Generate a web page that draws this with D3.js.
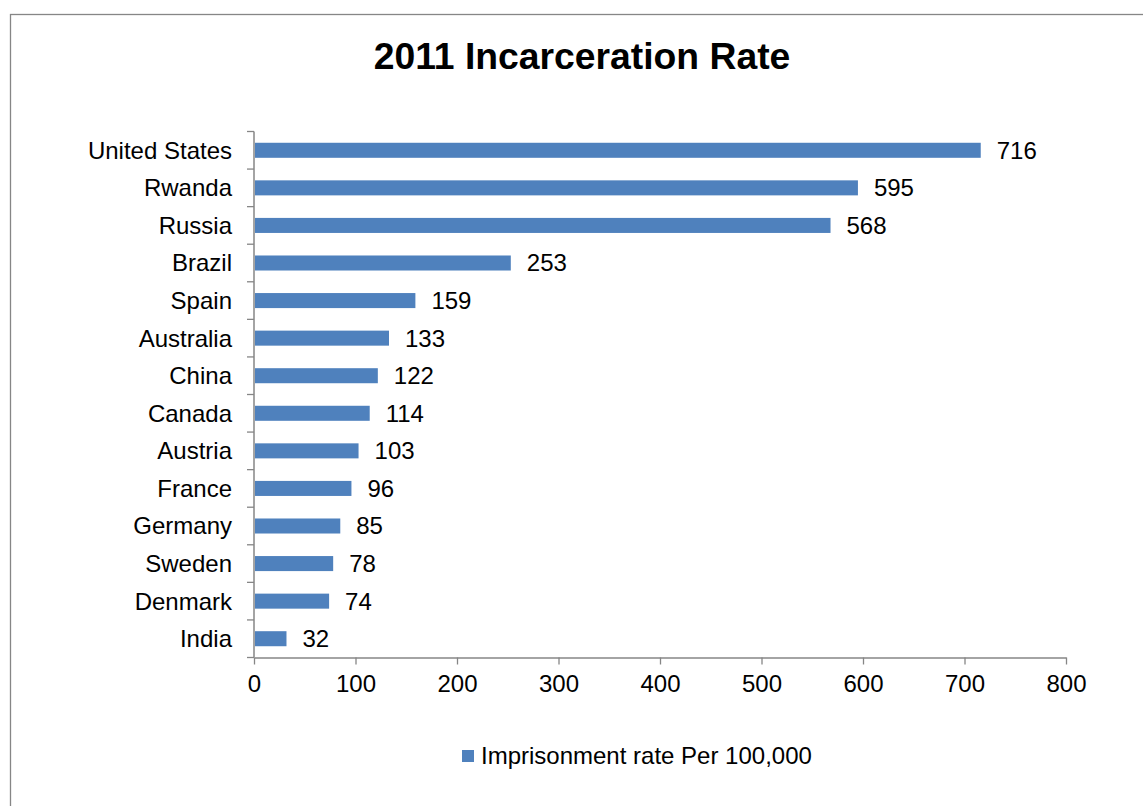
<!DOCTYPE html>
<html>
<head>
<meta charset="utf-8">
<script src="https://cdn.jsdelivr.net/npm/d3@7"></script>
<style>
  body { margin: 0; background: #fff; }
  svg { display: block; font-family: "Liberation Sans", Arial, sans-serif; }
</style>
</head>
<body>
<div id="chart"></div>
<script>
var countries = ["United States", "Rwanda", "Russia", "Brazil", "Spain", "Australia", "China",
                 "Canada", "Austria", "France", "Germany", "Sweden", "Denmark", "India"];
var rates = [716, 595, 568, 253, 159, 133, 122, 114, 103, 96, 85, 78, 74, 32];
var xTicks = [0, 100, 200, 300, 400, 500, 600, 700, 800];
var seriesName = "Imprisonment rate Per 100,000";
var chartTitle = "2011 Incarceration Rate";

var width = 1143, height = 806;
var margin = { top: 131.5, right: 77, bottom: 148.5, left: 254 };
var axisColor = "#868686";
var barColor = "#4f81bd";
var labelSize = "24px";

var data = countries.map((c, i) => ({ key: c, value: rates[i] }));

var svg = d3.select("#chart").append("svg")
    .attr("width", width)
    .attr("height", height);

// cadre du graphique (il dépasse à droite et en bas)
svg.append("rect")
    .attr("x", 10.5).attr("y", 14.5)
    .attr("width", width).attr("height", height)
    .attr("fill", "none")
    .attr("stroke", axisColor)
    .attr("stroke-width", 1.3);

svg.append("text")
    .attr("x", 582).attr("y", 69)
    .attr("text-anchor", "middle")
    .style("font-size", "37.3px")
    .style("font-weight", "bold")
    .text(chartTitle);

var x = d3.scaleLinear()
    .domain([0, 800])
    .range([margin.left, width - margin.right]);

var y = d3.scaleBand()
    .domain(countries)
    .range([margin.top, height - margin.bottom])
    .paddingInner(0.6)
    .paddingOuter(0.3);

// axe Y : ligne + graduations entre les catégories
var yAxis = svg.append("g");
yAxis.append("line")
    .attr("x1", x(0)).attr("x2", x(0))
    .attr("y1", margin.top).attr("y2", height - margin.bottom)
    .attr("stroke", axisColor).attr("stroke-width", 1.5);
var step = y.step();
yAxis.selectAll("line.tick")
    .data(d3.range(countries.length + 1))
    .enter().append("line")
    .attr("class", "tick")
    .attr("x1", x(0) - 7).attr("x2", x(0))
    .attr("y1", i => margin.top + i * step)
    .attr("y2", i => margin.top + i * step)
    .attr("stroke", axisColor).attr("stroke-width", 1.3);
yAxis.selectAll("text")
    .data(countries)
    .enter().append("text")
    .attr("x", 232)
    .attr("y", d => y(d) + y.bandwidth() / 2)
    .attr("dy", "0.35em")
    .attr("text-anchor", "end")
    .style("font-size", labelSize)
    .text(d => d);

// axe X
var xAxis = svg.append("g")
    .attr("transform", `translate(0,${height - margin.bottom})`)
    .call(d3.axisBottom(x).tickValues(xTicks).tickSize(7).tickSizeOuter(0).tickPadding(10));
xAxis.select(".domain").attr("stroke", axisColor).attr("stroke-width", 1.5);
xAxis.selectAll(".tick line").attr("stroke", axisColor).attr("stroke-width", 1.3);
xAxis.selectAll(".tick text")
    .attr("fill", "#000")
    .style("font-size", labelSize)
    .style("font-family", "'Liberation Sans', Arial, sans-serif");

// barres
svg.append("g")
    .selectAll("rect")
    .data(data)
    .enter().append("rect")
    .attr("x", x(0) + 1)
    .attr("y", d => y(d.key))
    .attr("width", d => x(d.value) - x(0) - 1)
    .attr("height", y.bandwidth())
    .attr("fill", barColor);

// étiquettes de valeurs
svg.append("g")
    .selectAll("text")
    .data(data)
    .enter().append("text")
    .attr("x", d => x(d.value) + 16)
    .attr("y", d => y(d.key) + y.bandwidth() / 2)
    .attr("dy", "0.35em")
    .style("font-size", labelSize)
    .text(d => d.value);

// légende
var legend = svg.append("g").attr("transform", "translate(462,750)");
legend.append("rect")
    .attr("width", 12).attr("height", 12)
    .attr("fill", barColor);
legend.append("text")
    .attr("x", 19).attr("y", 6)
    .attr("dy", "0.35em")
    .style("font-size", labelSize)
    .text(seriesName);
</script>
</body>
</html>
